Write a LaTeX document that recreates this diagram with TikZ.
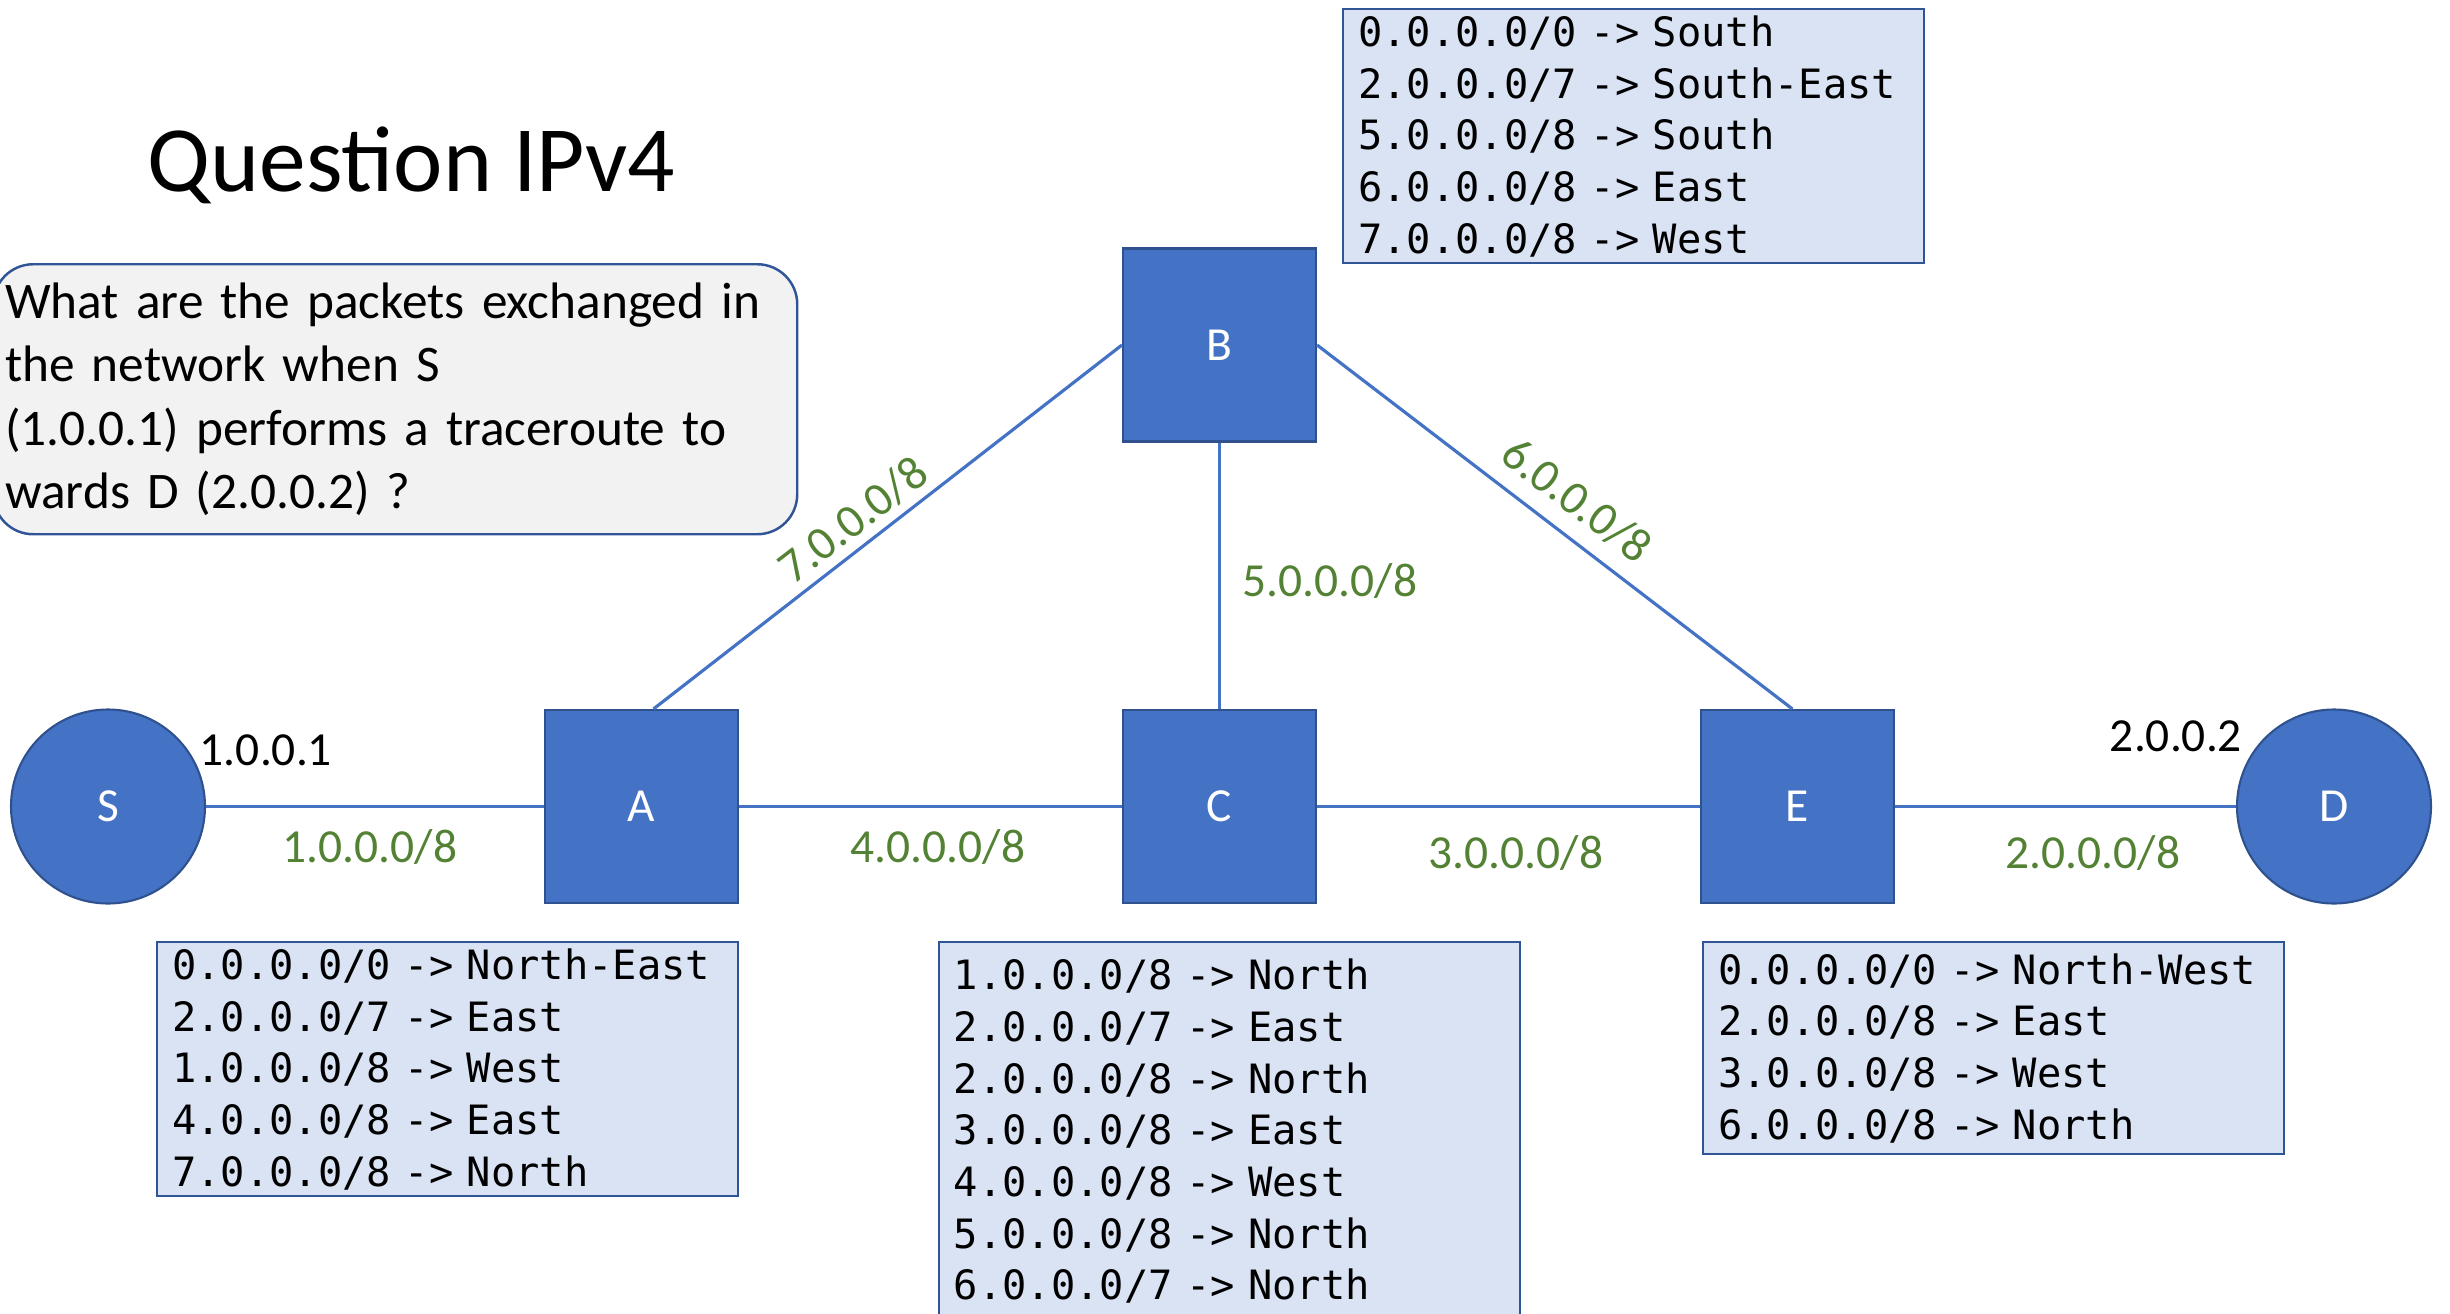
\documentclass[tikz,border=0pt]{standalone}
\usepackage{fontspec}
\setmainfont{Carlito}
\newfontfamily\tabfont{DejaVu Sans Mono}
\usetikzlibrary{positioning}
\definecolor{nodeblue}{HTML}{4472C4}
\definecolor{nodeedge}{HTML}{2F528F}
\definecolor{tabfill}{HTML}{DAE3F3}
\definecolor{tabedge}{HTML}{2F5597}
\definecolor{qfill}{HTML}{F2F2F2}
\definecolor{netgreen}{HTML}{548235}
\tikzset{
  router/.style={draw=nodeedge, line width=0.6pt, fill=nodeblue, minimum size=1.93cm,
                 inner sep=0pt, text=white, font=\fontsize{13.5}{16}\selectfont},
  host/.style  ={router, circle, minimum size=1.94cm},
  link/.style  ={draw=nodeblue, line width=0.9pt},
  tbl/.style   ={draw=tabedge, line width=0.7pt, fill=tabfill, anchor=north west,
                 align=left, text width=5.51cm, inner xsep=0.15cm, inner ysep=0pt,
                 font=\tabfont\fontsize{11.5}{14.7}\selectfont},
  net/.style   ={text=netgreen, font=\fontsize{13.5}{16}\selectfont, inner sep=1pt},
  ip/.style    ={text=black, font=\fontsize{13.5}{16}\selectfont, inner sep=1pt},
  qbox/.style  ={draw=tabedge, line width=0.7pt, fill=qfill, rounded corners=0.4cm,
                 anchor=north west, align=left, text width=7.80cm, inner xsep=0.12cm,
                 minimum width=8.04cm, minimum height=2.70cm,
                 font=\fontsize{14.6}{18.1}\selectfont},
  ttl/.style   ={font=\fontsize{26.6}{32}\selectfont, anchor=base west, inner sep=0pt},
}

\begin{document}
\begin{tikzpicture}[x=1cm,y=1cm]
  \useasboundingbox (0,0) rectangle (24.5,-13.13);
  \def\dx{5.78}
  \node[ttl] (title) at (1.47,-1.91) {Question IPv4};
  \node[qbox] (quest) at (-0.08,-2.63)
        {What are the packets exchanged in\\ the network when S\\
         (1.0.0.1) performs a traceroute to\\ wards D (2.0.0.2) ?};
  % routers and hosts
  \node[host]   (S) at (1.08,-8.065)        {S};
  \node[router] (A) at (6.415,-8.065)       {A};
  \node[router] (C) at (6.415+\dx,-8.065)   {C};
  \node[router] (E) at (6.415+2*\dx,-8.065) {E};
  \node[host]   (D) at (23.34,-8.065)       {D};
  \node[router] (B) at (6.415+\dx,-3.45)    {B};
  \draw[link] (S) -- (A);
  \draw[link] (A) -- (C);
  \draw[link] (C) -- (E);
  \draw[link] (E) -- (D);
  \draw[link] (A.83) -- (B.west);
  \draw[link] (B.south) -- (C.north);
  \draw[link] (B.east) -- (E.93);
  \node[ip] (ipS) at (2.66,-7.50)  {1.0.0.1};
  \node[ip] (ipD) at (21.76,-7.36) {2.0.0.2};
  \node[net] (n1) at (3.70,-8.47)  {1.0.0.0/8};
  \node[net] (n4) at (9.38,-8.47)  {4.0.0.0/8};
  \node[net] (n3) at (15.16,-8.53) {3.0.0.0/8};
  \node[net] (n2) at (20.93,-8.53) {2.0.0.0/8};
  \node[net] (n5) at (13.30,-5.81) {5.0.0.0/8};
  \node[net,rotate=37.5]  (n7) at (8.53,-5.20)  {7.0.0.0/8};
  \node[net,rotate=-37.3] (n6) at (15.77,-5.00) {6.0.0.0/8};
  % routing tables
  \node[tbl,minimum height=2.54cm] (tabB) at (13.42,-0.08)
        {0.0.0.0/0 -> South\\ 2.0.0.0/7 -> South-East\\ 5.0.0.0/8 -> South\\
         6.0.0.0/8 -> East\\ 7.0.0.0/8 -> West};
  \node[tbl,minimum height=2.54cm] (tabA) at (1.56,-9.41)
        {0.0.0.0/0 -> North-East\\ 2.0.0.0/7 -> East\\ 1.0.0.0/8 -> West\\
         4.0.0.0/8 -> East\\ 7.0.0.0/8 -> North};
  \node[tbl,minimum height=3.78cm] (tabC) at (9.375,-9.41)
        {1.0.0.0/8 -> North\\ 2.0.0.0/7 -> East\\ 2.0.0.0/8 -> North\\
         3.0.0.0/8 -> East\\ 4.0.0.0/8 -> West\\ 5.0.0.0/8 -> North\\
         6.0.0.0/7 -> North};
  \node[tbl,minimum height=2.12cm] (tabE) at (17.02,-9.41)
        {0.0.0.0/0 -> North-West\\ 2.0.0.0/8 -> East\\ 3.0.0.0/8 -> West\\
         6.0.0.0/8 -> North};
\end{tikzpicture}
\end{document}
